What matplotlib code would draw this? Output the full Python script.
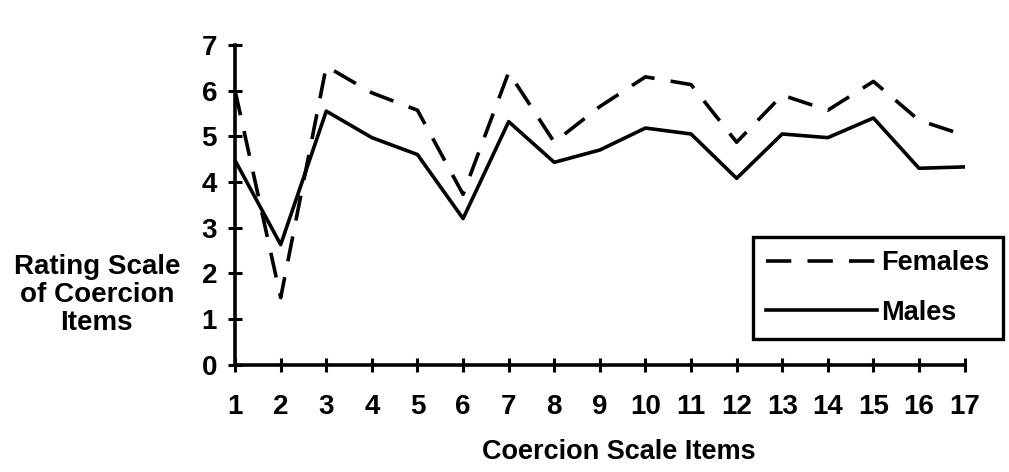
import matplotlib.pyplot as plt

plt.rcParams['font.family'] = ['Liberation Sans', 'DejaVu Sans']
plt.rcParams['font.weight'] = 'bold'

# Coercion scale items and mean ratings
items = list(range(1, 18))
females = [6.0, 1.47, 6.53, 5.95, 5.57, 3.73, 6.4, 4.87, 5.65, 6.3, 6.13, 4.87, 5.9, 5.57, 6.2, 5.35, 5.02]
males = [4.47, 2.63, 5.55, 4.97, 4.6, 3.2, 5.32, 4.43, 4.7, 5.18, 5.05, 4.08, 5.05, 4.97, 5.4, 4.3, 4.33]

fig = plt.figure(figsize=(10.09, 4.72), dpi=100)
ax = fig.add_axes([0.233, 0.227, 0.723, 0.678])

ax.plot(items, females, color='black', lw=2.6, dashes=(7, 4.5), label='Females')
ax.plot(items, males, color='black', lw=2.6, label='Males')

ax.set_xlim(1, 17)
ax.set_ylim(0, 7)
ax.set_xticks(items)
ax.set_yticks(range(0, 8))
for s in ['top', 'right']:
    ax.spines[s].set_visible(False)
for s in ['left', 'bottom']:
    ax.spines[s].set_linewidth(2.6)
ax.tick_params(direction='inout', length=10, width=2.2, labelsize=20)
ax.tick_params(axis='x', pad=16)
ax.tick_params(axis='y', pad=8)
for lab in ax.get_xticklabels() + ax.get_yticklabels():
    lab.set_fontweight('bold')

ax.set_xlabel('Coercion Scale Items', fontsize=19.5, fontweight='bold')
ax.xaxis.set_label_coords(0.526, -0.232)
fig.text(0.096, 0.375, 'Rating Scale\nof Coercion\nItems', ha='center', va='center',
         fontsize=20, fontweight='bold', linespacing=1.08)

leg = ax.legend(loc='upper left', bbox_to_anchor=(0.746, 0.498), bbox_transform=fig.transFigure,
                handlelength=4.1, handletextpad=0.15, fancybox=False, borderaxespad=0,
                framealpha=1, edgecolor='black', borderpad=0.5, labelspacing=0.85,
                prop={'weight': 'bold', 'size': 19.5})
leg.get_frame().set_linewidth(2.4)

fig.savefig('out.png', dpi=100)
